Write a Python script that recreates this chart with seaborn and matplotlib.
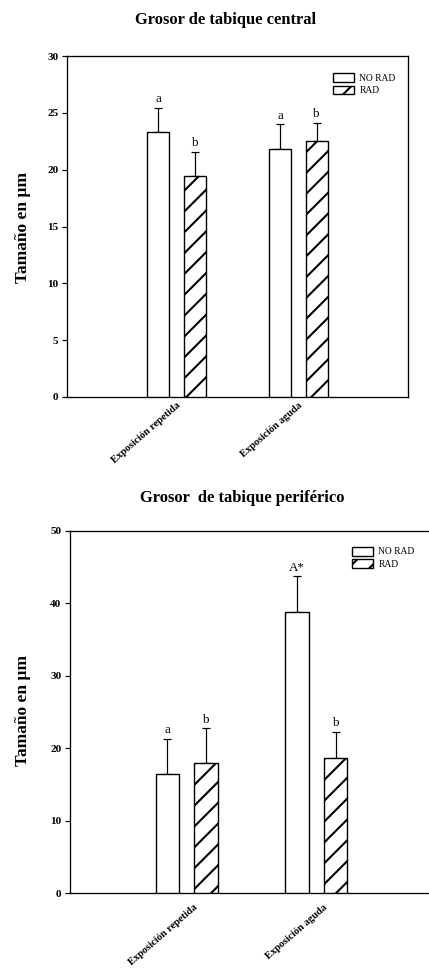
import numpy as np
import pandas as pd
import seaborn as sns
import matplotlib.pyplot as plt
from matplotlib.transforms import ScaledTranslation

# datos
groups = ["Exposición repetida", "Exposición aguda"]
treatments = ["NO RAD", "RAD"]

central_no_rad = [23.3, 21.8]
central_rad = [19.4, 22.5]
central_err_no_rad = [2.15, 2.2]
central_err_rad = [2.15, 1.6]
central_letters_no_rad = ["a", "a"]
central_letters_rad = ["b", "b"]

perif_no_rad = [16.45, 38.85]
perif_rad = [17.9, 18.6]
perif_err_no_rad = [4.85, 4.85]
perif_err_rad = [4.85, 3.7]
perif_letters_no_rad = ["a", "A*"]
perif_letters_rad = ["b", "b"]

sns.set_style("ticks")
plt.rcParams["font.family"] = ["Liberation Serif", "DejaVu Serif"]
plt.rcParams["hatch.linewidth"] = 1.2
plt.rcParams["hatch.color"] = "black"
plt.rcParams["text.color"] = "black"
plt.rcParams["axes.labelcolor"] = "black"
plt.rcParams["xtick.color"] = "black"
plt.rcParams["ytick.color"] = "black"

DPI = 125
W, H = 429, 973
fig = plt.figure(figsize=(W / DPI, H / DPI), dpi=DPI)


def draw_panel(ax, no_rad, rad, err_no_rad, err_rad, let_no_rad, let_rad,
               ymax, step, legend_anchor, label_shift=(0, 0)):
    df = pd.DataFrame({
        "grupo": groups * 2,
        "tratamiento": [treatments[0]] * 2 + [treatments[1]] * 2,
        "valor": list(no_rad) + list(rad),
    })
    sns.barplot(data=df, x="grupo", y="valor", hue="tratamiento",
                order=groups, hue_order=treatments,
                palette=["white", "white"], saturation=1,
                edgecolor="black", linewidth=0.8, width=0.6, gap=0.4,
                errorbar=None, ax=ax)
    bars = list(ax.containers)
    for cont, errs, lets, hatch in zip(bars, [err_no_rad, err_rad],
                                       [let_no_rad, let_rad], ["", "//"]):
        xs, hs = [], []
        for p in cont.patches:
            p.set_hatch(hatch)
            p.set_zorder(3)
            xs.append(p.get_x() + p.get_width() / 2)
            hs.append(p.get_height())
        ax.errorbar(xs, hs, yerr=[np.zeros(len(errs)), errs], fmt="none",
                    ecolor="black", elinewidth=0.7, capsize=2.2,
                    capthick=0.7, zorder=2)
        for x, h, e, t in zip(xs, hs, errs, lets):
            ax.annotate(t, (x, h + e), xytext=(0, 1.5), textcoords="offset points",
                        ha="center", va="bottom", fontsize=7.5, color="black")

    ax.legend(handles=bars, labels=treatments, loc="upper left",
              bbox_to_anchor=legend_anchor, frameon=False, fontsize=5.5,
              handlelength=2.2, handleheight=1.05, handletextpad=0.55,
              labelspacing=0.3, borderpad=0, borderaxespad=0)

    ax.set_ylim(0, ymax)
    ax.set_xlim(-0.9, 1.9)
    ax.set_yticks(np.arange(0, ymax + 1, step))
    ax.set_xlabel("")
    ax.set_ylabel("Tamaño en µm", fontsize=10, fontweight="bold", color="black")
    ax.tick_params(axis="y", direction="out", length=3, width=0.7, labelsize=6.5,
                   pad=2, colors="black")
    ax.tick_params(axis="x", length=0, labelsize=6, pad=2, colors="black")
    for lab in ax.get_yticklabels():
        lab.set_fontweight("bold")
    shift = ScaledTranslation(label_shift[0] / DPI, label_shift[1] / DPI,
                              fig.dpi_scale_trans)
    for lab in ax.get_xticklabels():
        lab.set_fontweight("bold")
        lab.set_rotation(41)
        lab.set_ha("right")
        lab.set_va("top")
        lab.set_rotation_mode("anchor")
        lab.set_transform(lab.get_transform() + shift)
    for sp in ax.spines.values():
        sp.set_visible(True)
        sp.set_linewidth(0.75)
        sp.set_color("black")


ax1 = fig.add_axes([67 / W, 1 - 397 / H, 341 / W, 341 / H])
draw_panel(ax1, central_no_rad, central_rad, central_err_no_rad, central_err_rad,
           central_letters_no_rad, central_letters_rad, 30, 5, (0.78, 0.95))
ax1.yaxis.set_label_coords(-0.105, 0.496)

ax2 = fig.add_axes([70 / W, 1 - 893.3 / H, 363 / W, 362.6 / H])
draw_panel(ax2, perif_no_rad, perif_rad, perif_err_no_rad, perif_err_rad,
           perif_letters_no_rad, perif_letters_rad, 50, 10, (0.777, 0.956),
           label_shift=(7, -6))
ax2.yaxis.set_label_coords(-0.108, 0.503)

fig.text(225.5 / W, 1 - 20 / H, "Grosor de tabique central", ha="center",
         va="center", fontsize=9.5, fontweight="bold", color="black")
fig.text(242.5 / W, 1 - 498 / H, "Grosor  de tabique periférico", ha="center",
         va="center", fontsize=9.5, fontweight="bold", color="black")

fig.savefig("out.png", dpi=DPI)
